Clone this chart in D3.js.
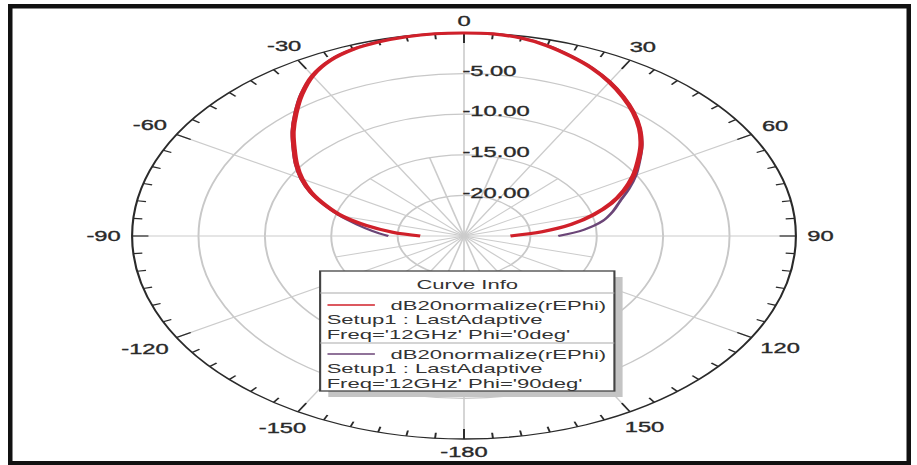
<!DOCTYPE html>
<html>
<head>
<meta charset="utf-8">
<script src="https://cdn.jsdelivr.net/npm/d3@7"></script>
<style>
  body { margin: 0; background: #fff; }
  svg { display: block; font-family: "Liberation Sans", Arial, sans-serif; }
</style>
</head>
<body>
<svg id="polar"></svg>
<script>

// theta sweep (deg) and the two normalized patterns (dB)
var thetaDeg = [-90,-85,-80,-75,-70,-65,-60,-55,-50,-45,-40,-35,-30,-25,-20,-15,-10,-5,0,
                5,10,15,20,25,30,35,40,45,50,55,60,65,70,75,80,85,90]
var phi0 = [-21.7,-19.6,-17.5,-15.5,-13.9,-12.3,-10.9,-9.6,-8.3,-6.8,-5.3,-3.7,-2.2,-1.15,-0.55,-0.25,-0.08,0,0,
            -0.02,-0.25,-0.75,-1.45,-2.2,-3.1,-4.1,-5.15,-6.3,-7.6,-9.0,-10.3,-11.7,-13.2,-14.9,-16.8,-19.1,-21.5]
var phi90 = [-19.3,-18.1,-16.8,-15.3,-13.8,-12.2,-10.8,-9.5,-8.2,-6.7,-5.2,-3.6,-2.2,-1.1,-0.5,-0.2,-0.05,0,0,
             0,-0.2,-0.7,-1.4,-2.15,-3.05,-4.05,-5.1,-6.25,-7.5,-8.85,-10.05,-11.3,-12.5,-13.4,-14.4,-15.9,-17.9]

var ringValues = [-20, -15, -10, -5]
var ringLabels = ["-20.00", "-15.00", "-10.00", "-5.00"]
var angleTicks = [0, 30, 60, 90, 120, 150, 180, -150, -120, -90, -60, -30]
var angleLabels = ["0", "30", "60", "90", "120", "150", "-180", "-150", "-120", "-90", "-60", "-30"]

var legendTitle = "Curve Info"
var legendNames = ["dB20normalize(rEPhi)", "dB20normalize(rEPhi)"]
var legendSetup = ["Setup1 : LastAdaptive", "Setup1 : LastAdaptive"]
var legendFreq = ["Freq='12GHz' Phi='0deg'", "Freq='12GHz' Phi='90deg'"]
var seriesColors = ["#d0202a", "#6b4577"]

var dimensions = {
    width: 917,
    height: 465,
    cx: 464,
    cy: 236,
    radius: 203,
    stretch: 1.635   // the picture is stretched sideways
}

var svg = d3.select("#polar")
            .attr("width", dimensions.width)
            .attr("height", dimensions.height)

svg.append("rect")
   .attr("width", dimensions.width).attr("height", dimensions.height)
   .attr("fill", "#fff")

// frame
svg.append("rect")
   .attr("x", 10.25).attr("y", 6.25)
   .attr("width", 898.5).attr("height", 457)
   .attr("fill", "none").attr("stroke", "#111").attr("stroke-width", 4.5)

var g = svg.append("g")
           .attr("transform", `translate(${dimensions.cx},${dimensions.cy}) scale(${dimensions.stretch},1)`)

var rScale = d3.scaleLinear().domain([-25, 0]).range([0, dimensions.radius])
var aScale = d3.scaleLinear().domain([-180, 180]).range([-Math.PI, Math.PI])

var px = (deg, rad) => rad * Math.sin(aScale(deg))
var py = (deg, rad) => -rad * Math.cos(aScale(deg))

// rings
g.selectAll("circle.ring")
 .data(ringValues)
 .enter()
 .append("circle")
 .attr("class", "ring")
 .attr("r", d => rScale(d))
 .attr("fill", "none")
 .attr("stroke", "#c8c8c8")
 .attr("stroke-width", 1.2)

// spokes: every 30 deg full length, the 15 deg ones only in the middle
var spokes = d3.range(-180, 180, 15)
g.selectAll("line.spoke")
 .data(spokes)
 .enter()
 .append("line")
 .attr("class", "spoke")
 .attr("x1", 0).attr("y1", 0)
 .attr("x2", d => px(d, d % 30 === 0 ? rScale(0) : rScale(-15)))
 .attr("y2", d => py(d, d % 30 === 0 ? rScale(0) : rScale(-15)))
 .attr("stroke", "#cccccc")
 .attr("stroke-width", 1)

// outer ring + ticks
g.append("circle")
 .attr("r", rScale(0))
 .attr("fill", "none")
 .attr("stroke", "#2a2a2a")
 .attr("stroke-width", 1.3)

var ticks = d3.range(-180, 180, 5)
g.selectAll("line.tick")
 .data(ticks)
 .enter()
 .append("line")
 .attr("class", "tick")
 .attr("x1", d => px(d, rScale(0)))
 .attr("y1", d => py(d, rScale(0)))
 .attr("x2", d => px(d, rScale(0) - (d % 30 === 0 ? 10 : 5.5)))
 .attr("y2", d => py(d, rScale(0) - (d % 30 === 0 ? 10 : 5.5)))
 .attr("stroke", "#2a2a2a")
 .attr("stroke-width", 1.2)

// radial labels
g.selectAll("text.rlab")
 .data(ringValues)
 .enter()
 .append("text")
 .attr("class", "rlab")
 .attr("x", -1)
 .attr("y", d => -rScale(d) - 3)
 .attr("dominant-baseline", "central")
 .attr("font-size", 14.5)
 .attr("fill", "#2a2a2a")
 .attr("stroke", "#2a2a2a").attr("stroke-width", 0.35)
 .text((d, i) => ringLabels[i])

// angle labels
g.selectAll("text.alab")
 .data(angleTicks)
 .enter()
 .append("text")
 .attr("class", "alab")
 .attr("text-anchor", "middle")
 .attr("dominant-baseline", "central")
 .attr("font-size", 14.5)
 .attr("fill", "#2a2a2a")
 .attr("stroke", "#2a2a2a").attr("stroke-width", 0.35)
 .text((d, i) => angleLabels[i])
 .each(function(d) {
     var w = this.getComputedTextLength()
     var a = aScale(d)
     var pad = 7 + (w / 2) * Math.abs(Math.sin(a)) + 5.5 * Math.abs(Math.cos(a))
     d3.select(this)
       .attr("x", px(d, rScale(0) + pad))
       .attr("y", py(d, rScale(0) + pad))
 })

// curves
var lineGen = d3.lineRadial()
                .angle(d => aScale(d[0]))
                .radius(d => rScale(d[1]))
                .curve(d3.curveCatmullRom)

var series = [phi0, phi90]
var drawOrder = [1, 0]
drawOrder.forEach(function(k) {
    g.append("path")
     .datum(thetaDeg.map((t, i) => [t, series[k][i]]))
     .attr("d", lineGen)
     .attr("fill", "none")
     .attr("stroke", seriesColors[k])
     .attr("stroke-width", k === 0 ? 3.2 : 2)
     .attr("stroke-linejoin", "round")
})

// legend
var leg = { x: -88, y: 35, w: 180, h: 120 }
var lg = g.append("g").attr("transform", `translate(${leg.x},${leg.y})`)

lg.append("rect")
  .attr("x", 5).attr("y", 6).attr("width", leg.w).attr("height", leg.h)
  .attr("fill", "#c4c4c4")
lg.append("rect")
  .attr("width", leg.w).attr("height", leg.h)
  .attr("fill", "#fff").attr("stroke", "#444").attr("stroke-width", 1.3)

lg.append("text")
  .attr("x", leg.w / 2).attr("y", 13)
  .attr("text-anchor", "middle").attr("dominant-baseline", "central")
  .attr("font-size", 13.5).attr("fill", "#333")
  .text(legendTitle)

lg.selectAll("line.sep")
  .data([22, 72])
  .enter()
  .append("line")
  .attr("x1", 0).attr("x2", leg.w)
  .attr("y1", d => d).attr("y2", d => d)
  .attr("stroke", "#aaa").attr("stroke-width", 1)

legendNames.forEach(function(name, i) {
    var top = 34 + i * 49
    lg.append("line")
      .attr("x1", 4.5).attr("x2", 33.5)
      .attr("y1", top).attr("y2", top)
      .attr("stroke", seriesColors[i]).attr("stroke-width", 1.6)
    var rows = [name, legendSetup[i], legendFreq[i]]
    lg.selectAll("text.row" + i)
      .data(rows)
      .enter()
      .append("text")
      .attr("x", (d, j) => j === 0 ? 43 : 4)
      .attr("y", (d, j) => top + j * 14.5)
      .attr("dominant-baseline", "central")
      .attr("font-size", 13.5)
      .attr("fill", "#333")
      .text(d => d)
})

</script>
</body>
</html>
